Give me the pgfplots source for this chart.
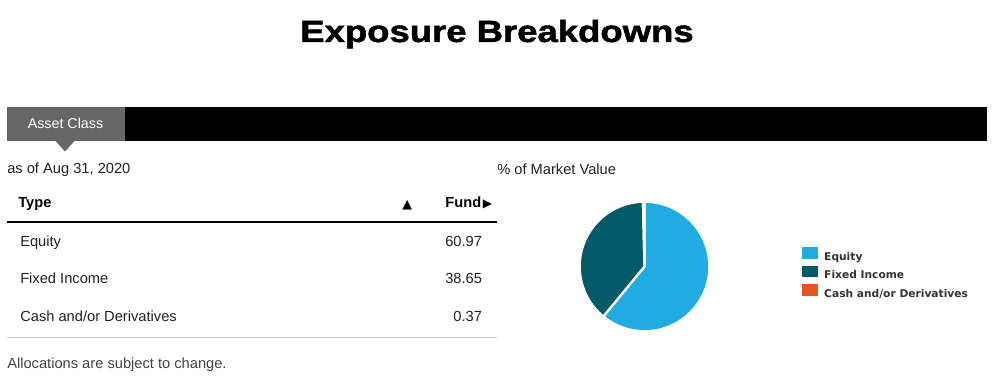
\documentclass[border=0pt]{standalone}
\usepackage{fontspec}
\setmainfont{Liberation Sans}
\newfontfamily\dejavu{DejaVu Sans}
\newfontfamily\titlefont[FakeBold=1.5]{Liberation Sans Bold}
\usepackage{pgfplots}
\usepackage{pgfplotstable}
\pgfplotsset{compat=1.18}
\definecolor{eqc}{HTML}{22ABE2}
\definecolor{fic}{HTML}{045A69}
\definecolor{cac}{HTML}{E4561F}
\definecolor{tabgrey}{HTML}{666666}
\definecolor{txt}{HTML}{222222}
\definecolor{rulegrey}{HTML}{CCCCCC}
\definecolor{legtxt}{HTML}{333333}
\newcommand\fs[1]{\fontsize{#1}{#1}\selectfont}
\pgfkeys{/pgf/number format/assume math mode=true}

\pgfplotstableread[col sep=comma]{
type,value
Equity,60.97
Fixed Income,38.65
Cash and/or Derivatives,0.37
}\alloc

\begin{document}
\begin{tikzpicture}[x=0.75pt,y=-0.75pt]
\useasboundingbox (0,0) rectangle (994,381);
% values
\pgfplotstablegetelem{0}{value}\of\alloc \pgfmathsetmacro\vA{\pgfplotsretval}
\pgfplotstablegetelem{1}{value}\of\alloc \pgfmathsetmacro\vB{\pgfplotsretval}
\pgfplotstablegetelem{2}{value}\of\alloc \pgfmathsetmacro\vC{\pgfplotsretval}
\pgfmathsetmacro\tot{\vA+\vB+\vC}
\pgfmathsetmacro\aA{90}
\pgfmathsetmacro\aB{90-\vA/\tot*360}
\pgfmathsetmacro\aC{\aB-\vB/\tot*360}
\pgfmathsetmacro\aD{\aC-\vC/\tot*360}
% title
\node[anchor=base, inner sep=0pt] at (497,42) {\scalebox{1.19}[1]{\titlefont\fs{23}Exposure Breakdowns}};
% tab bar
\fill[black] (7,106.7) rectangle (986.7,141);
\fill[tabgrey] (7,106.7) rectangle (125,141);
\fill[tabgrey] (55,140.5) -- (75,140.5) -- (65,151.5) -- cycle;
\node[anchor=base, inner sep=0pt, text=white] at (65.5,128.3) {\fs{10.7}Asset Class};
% captions
\node[anchor=base west, inner sep=0pt, text=txt] at (7,173.3) {\fs{11}as of Aug 31, 2020};
\node[anchor=base west, inner sep=0pt, text=txt] at (497,174.5) {\fs{11}\% of Market Value};
% table header
\node[anchor=base west, inner sep=0pt] at (18,207.5) {\fs{11}\bfseries Type};
\node[anchor=base west, inner sep=0pt] at (402,208) {\dejavu\fs{9.5}▲};
\node[anchor=base east, inner sep=0pt] at (481.5,207.5) {\fs{11}\bfseries Fund};
\node[anchor=base west, inner sep=0pt] at (482.5,207.5) {\dejavu\fs{9}▶};
\fill[black] (7,220.7) rectangle (497,223.2);
% rows
\node[anchor=base west, inner sep=0pt, text=txt] at (20,246) {\fs{11}Equity};
\node[anchor=base west, inner sep=0pt, text=txt] at (20,283.3) {\fs{11}Fixed Income};
\node[anchor=base west, inner sep=0pt, text=txt] at (20,321.7) {\fs{11}Cash and/or Derivatives};
\node[anchor=base east, inner sep=0pt, text=txt] at (482.3,246) {\fs{11}\pgfmathprintnumber[fixed,fixed zerofill,precision=2]{\vA}};
\node[anchor=base east, inner sep=0pt, text=txt] at (482.3,283.3) {\fs{11}\pgfmathprintnumber[fixed,fixed zerofill,precision=2]{\vB}};
\node[anchor=base east, inner sep=0pt, text=txt] at (482.3,321.7) {\fs{11}\pgfmathprintnumber[fixed,fixed zerofill,precision=2]{\vC}};
\fill[rulegrey] (7,336.8) rectangle (497,337.8);
\node[anchor=base west, inner sep=0pt, text=txt!85!white] at (7,368) {\fs{11}Allocations are subject to change.};
% pie
\begin{axis}[at={(483.375pt,-199.875pt)}, anchor=center, scale only axis,
  width=96pt, height=96pt, xmin=-1, xmax=1, ymin=-1, ymax=1,
  hide axis, clip=false,
  legend style={at={(1.728,0.652)}, anchor=north west, draw=none, fill=none,
    inner sep=0pt, outer sep=0pt, row sep=1.65pt, column sep=5pt,
    font={\dejavu\bfseries\fontsize{8}{9}\selectfont}, text=legtxt,
    nodes={inner sep=0pt, outer sep=0pt, text height=6.75pt, text depth=2.25pt}},
  legend cell align=left,
  legend image code/.code={\fill[#1] (0pt,-0.5pt) rectangle (11.5pt,7.5pt);}]
\addlegendimage{eqc}
\addlegendentry{Equity}
\addlegendimage{fic}
\addlegendentry{Fixed Income}
\addlegendimage{cac}
\addlegendentry{Cash and/or Derivatives}
\fill[eqc, draw=white, line width=1.7pt, line join=round] (axis cs:0,0) -- +(\aA:48.6pt) arc[start angle=\aA, end angle=\aB, radius=48.6pt] -- cycle;
\fill[fic, draw=white, line width=1.7pt, line join=round] (axis cs:0,0) -- +(\aB:48.6pt) arc[start angle=\aB, end angle=\aC, radius=48.6pt] -- cycle;
\fill[cac, draw=white, line width=1.7pt, line join=round] (axis cs:0,0) -- +(\aC:48.6pt) arc[start angle=\aC, end angle=\aD, radius=48.6pt] -- cycle;
\end{axis}
\end{tikzpicture}
\end{document}
